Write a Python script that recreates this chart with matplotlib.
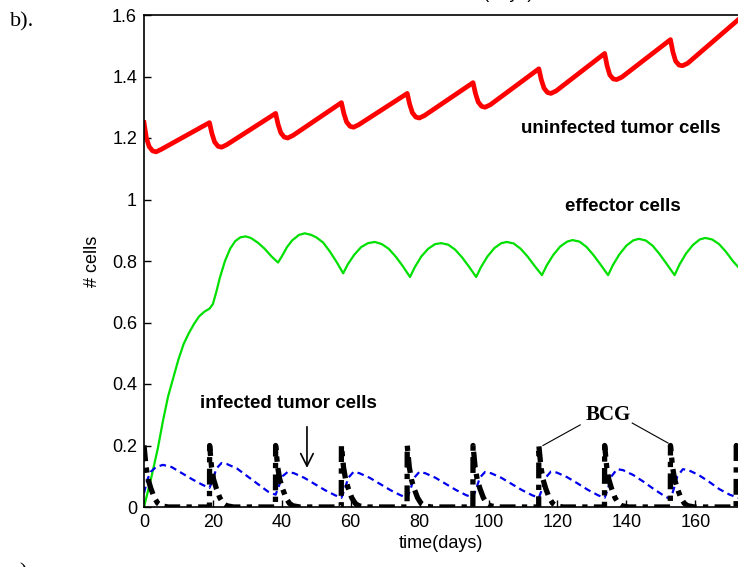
import matplotlib
matplotlib.use('Agg')
import matplotlib.pyplot as plt

# uninfected tumor cells (red)
tumor_t = [0, 0.7, 1.5, 2.5, 3.5, 5,
           19, 19.7, 20.5, 21.5, 22.5, 24,
           38.2, 38.9, 39.7, 40.7, 41.7, 43.2,
           57.3, 58, 58.8, 59.8, 60.8, 62.3,
           76.4, 77.1, 77.9, 78.9, 79.9, 81.4,
           95.5, 96.2, 97, 98, 99, 100.5,
           114.6, 115.3, 116.1, 117.1, 118.1, 119.6,
           133.7, 134.4, 135.2, 136.2, 137.2, 138.7,
           152.8, 153.5, 154.3, 155.3, 156.3, 157.8,
           172.5]
tumor_v = [1.25, 1.20, 1.172, 1.158, 1.155, 1.163,
           1.25, 1.215, 1.187, 1.173, 1.17, 1.178,
           1.28, 1.245, 1.217, 1.203, 1.20, 1.208,
           1.315, 1.28, 1.252, 1.238, 1.235, 1.243,
           1.345, 1.31, 1.282, 1.268, 1.265, 1.273,
           1.38, 1.345, 1.317, 1.303, 1.30, 1.308,
           1.425, 1.39, 1.362, 1.348, 1.345, 1.353,
           1.475, 1.435, 1.405, 1.392, 1.39, 1.398,
           1.52, 1.48, 1.45, 1.437, 1.435, 1.443,
           1.585]

# effector cells (green)
effector_t = [0, 2, 4, 5.5, 7, 8.5, 10, 11.5, 13, 14.5, 16, 17.5, 19, 20, 21, 22, 23.5, 25,
              26.5, 28, 29.5, 31, 33, 35, 37, 38.9, 40, 41.5, 43, 45, 46.7, 48.5, 50, 52, 54,
              56, 57.8, 59.2, 61, 63, 65, 67, 69, 71, 73, 75, 77.2, 78.6, 80.5, 82.5, 84.5,
              86.3, 88.3, 90.3, 92.3, 94.3, 96.4, 97.8, 99.7, 101.7, 103.7, 105.3, 107.3,
              109.3, 111.3, 113.3, 115.5, 116.9, 118.8, 120.8, 122.8, 124.4, 126.4, 128.4,
              130.4, 132.4, 134.7, 136.1, 138, 140, 142, 143.6, 145.6, 147.6, 149.6, 151.6,
              154, 155.4, 157.3, 159.3, 161.3, 162.9, 164.9, 166.9, 168.9, 170.9, 172.5]
effector_v = [0, 0.09, 0.19, 0.28, 0.36, 0.42, 0.48, 0.53, 0.565, 0.595, 0.62, 0.635, 0.645,
              0.66, 0.70, 0.745, 0.80, 0.84, 0.865, 0.877, 0.88, 0.875, 0.86, 0.84, 0.815,
              0.795, 0.815, 0.845, 0.867, 0.885, 0.89, 0.885, 0.877, 0.86, 0.83, 0.795, 0.76,
              0.79, 0.82, 0.845, 0.858, 0.862, 0.855, 0.84, 0.815, 0.785, 0.748,
              0.78, 0.815, 0.84, 0.855, 0.858, 0.853, 0.837, 0.812, 0.782, 0.748,
              0.78, 0.815, 0.842, 0.858, 0.862, 0.857, 0.84, 0.815, 0.785, 0.754,
              0.786, 0.82, 0.847, 0.863, 0.868, 0.863, 0.846, 0.82, 0.79, 0.754,
              0.787, 0.822, 0.85, 0.867, 0.872, 0.867, 0.85, 0.823, 0.792, 0.754,
              0.788, 0.824, 0.852, 0.87, 0.875, 0.87, 0.855, 0.83, 0.8, 0.78]

# infected tumor cells (blue)
infected_t = [0, 1, 2, 3.5, 5.5, 8, 11, 14, 17, 19, 20, 21, 22.5, 24, 27, 30, 33, 36, 38.2,
              39.2, 40.2, 41.7, 43.5, 46.5, 49.5, 52.5, 55.5, 57.3, 58.3, 59.3, 60.8, 62.5,
              65.5, 68.5, 71.5, 74.5, 76.4, 77.4, 78.4, 79.9, 81.6, 84.6, 87.6, 90.6, 93.6,
              95.5, 96.5, 97.5, 99, 100.7, 103.7, 106.7, 109.7, 112.7, 114.6, 115.6, 116.6,
              118.1, 119.8, 122.8, 125.8, 128.8, 131.8, 133.7, 134.7, 135.7, 137.3, 139,
              142, 145, 148, 151, 152.8, 153.8, 154.8, 156.4, 158, 161, 164, 167, 170, 172.5]
infected_v = [0.045, 0.09, 0.115, 0.13, 0.137, 0.13, 0.11, 0.09, 0.072, 0.062, 0.09, 0.125,
              0.143, 0.14, 0.125, 0.10, 0.075, 0.05, 0.04,
              0.07, 0.10, 0.114, 0.11, 0.095, 0.075, 0.055, 0.038, 0.03,
              0.06, 0.095, 0.114, 0.11, 0.095, 0.075, 0.055, 0.038, 0.03,
              0.06, 0.095, 0.114, 0.11, 0.095, 0.075, 0.055, 0.038, 0.032,
              0.062, 0.096, 0.114, 0.11, 0.095, 0.075, 0.055, 0.038, 0.03,
              0.06, 0.096, 0.115, 0.112, 0.097, 0.077, 0.056, 0.038, 0.03,
              0.062, 0.1, 0.123, 0.12, 0.104, 0.082, 0.058, 0.036, 0.025,
              0.06, 0.1, 0.123, 0.12, 0.104, 0.082, 0.058, 0.04, 0.03]

# BCG (black dash-dot)
bcg_t = [0, 0.6, 1.2, 2, 3, 4, 5, 7, 19, 19.05, 19.6, 20.2, 21, 22, 23, 24, 26,
         38.15, 38.2, 38.8, 39.4, 40.2, 41.2, 42.2, 43.2, 45.2,
         57.25, 57.3, 57.9, 58.5, 59.3, 60.3, 61.3, 62.3, 64.3,
         76.35, 76.4, 77, 77.6, 78.4, 79.4, 80.4, 81.4, 83.4,
         95.45, 95.5, 96.1, 96.7, 97.5, 98.5, 99.5, 100.5, 102.5,
         114.55, 114.6, 115.2, 115.8, 116.6, 117.6, 118.6, 119.6, 121.6,
         133.65, 133.7, 134.3, 134.9, 135.7, 136.7, 137.7, 138.7, 140.7,
         152.75, 152.8, 153.4, 154, 154.8, 155.8, 156.8, 157.8, 159.8,
         171.85, 171.9, 172.5]
bcg_v = [0.2, 0.13, 0.09, 0.06, 0.03, 0.012, 0.004, 0, 0,
         0.2, 0.13, 0.09, 0.06, 0.03, 0.012, 0.004, 0,
         0, 0.2, 0.13, 0.09, 0.06, 0.03, 0.012, 0.004, 0,
         0, 0.2, 0.13, 0.09, 0.06, 0.03, 0.012, 0.004, 0,
         0, 0.2, 0.13, 0.09, 0.06, 0.03, 0.012, 0.004, 0,
         0, 0.2, 0.13, 0.09, 0.06, 0.03, 0.012, 0.004, 0,
         0, 0.2, 0.13, 0.09, 0.06, 0.03, 0.012, 0.004, 0,
         0, 0.2, 0.13, 0.09, 0.06, 0.03, 0.012, 0.004, 0,
         0, 0.2, 0.13, 0.09, 0.06, 0.03, 0.012, 0.004, 0,
         0, 0.2, 0.16]

x_ticks = [0, 20, 40, 60, 80, 100, 120, 140, 160]
y_ticks = [0, 0.2, 0.4, 0.6, 0.8, 1.0, 1.2, 1.4, 1.6]
y_tick_labels = ['0', '0.2', '0.4', '0.6', '0.8', '1', '1.2', '1.4', '1.6']

plt.rcParams['font.family'] = ['Liberation Sans', 'DejaVu Sans']

fig = plt.figure(figsize=(7.38, 5.67), dpi=100)
ax = fig.add_axes([144 / 738, 60 / 567, 1 - 144 / 738, 492 / 567])

ax.plot(tumor_t, tumor_v, color='#ff0000', linewidth=3.4, solid_joinstyle='round')
ax.plot(effector_t, effector_v, color='#00e000', linewidth=1.6)
ax.plot(infected_t, infected_v, color='#0000ee', linewidth=1.6, linestyle=(0, (3, 2)))
ax.plot(bcg_t, bcg_v, color='black', linewidth=3.8, linestyle=(0, (3, 1.2, 1, 1.2)))

ax.set_xlim(0, 172.4)
ax.set_ylim(0, 1.6)
ax.set_xticks(x_ticks)
ax.set_yticks(y_ticks)
ax.set_yticklabels(y_tick_labels)
ax.tick_params(direction='in', length=5, width=1, labelsize=13, pad=5)
ax.spines['right'].set_visible(False)
for s in ['left', 'top', 'bottom']:
    ax.spines[s].set_linewidth(1.2)

ax.set_xlabel('time(days)', fontsize=13, labelpad=3)
ax.set_ylabel('# cells', fontsize=13, labelpad=8)

ax.text(138.5, 1.232, 'uninfected tumor cells', fontsize=13.5, fontweight='bold',
        ha='center', va='center')
ax.text(139, 0.976, 'effector cells', fontsize=13.5, fontweight='bold',
        ha='center', va='center')
ax.text(41.8, 0.338, 'infected tumor cells', fontsize=13.5, fontweight='bold',
        ha='center', va='center')
ax.annotate('', xy=(47.3, 0.118), xytext=(47.3, 0.27),
            arrowprops=dict(arrowstyle='->,head_length=0.9,head_width=0.45', color='black', lw=1.2))
ax.text(134.7, 0.299, 'BCG', fontsize=15, fontweight='bold', family='Liberation Serif',
        ha='center', va='center')
ax.plot([126.6, 115.8], [0.267, 0.2], color='black', linewidth=0.8)
ax.plot([141.7, 152.1], [0.273, 0.208], color='black', linewidth=0.8)

fig.text(10 / 738, 1 - 22 / 567, 'b).', fontsize=16, family='Liberation Serif',
         ha='left', va='center')
# cut-off fragments of neighbouring panels
fig.text(492 / 738, 1 + 2 / 567, 'time(days)', fontsize=13, ha='center', va='baseline')
fig.text(10 / 738, 4 / 567, 'c).', fontsize=16, family='Liberation Serif',
         ha='left', va='top')

fig.savefig('out.png', dpi=100)
